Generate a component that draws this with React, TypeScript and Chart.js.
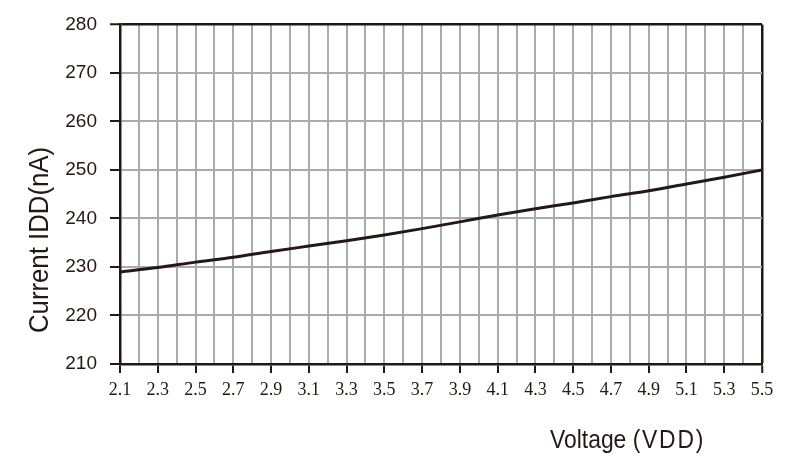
import { useEffect, useRef } from "react";
import { Chart, registerables } from "chart.js";

Chart.register(...registerables);

// ---- Data ----
const voltage = [2.1, 2.3, 2.5, 2.7, 2.9, 3.1, 3.3, 3.5, 3.7, 3.9, 4.1, 4.3, 4.5, 4.7, 4.9, 5.1, 5.3, 5.5];
const currentNA = [229.0, 229.9, 231.0, 232.0, 233.2, 234.3, 235.4, 236.6, 237.9, 239.3, 240.7, 242.0, 243.2, 244.5, 245.7, 247.1, 248.5, 250.0];
const xTickLabels = ["2.1", "2.3", "2.5", "2.7", "2.9", "3.1", "3.3", "3.5", "3.7", "3.9", "4.1", "4.3", "4.5", "4.7", "4.9", "5.1", "5.3", "5.5"];
const yTickLabels = ["210", "220", "230", "240", "250", "260", "270", "280"];
const xTitleMain = "Voltage";
const xTitleUnit = "(VDD)";
const yTitle = "Current IDD(nA)";

const X_MIN = 2.1;
const X_MAX = 5.5;
const X_GRID_STEP = 0.1;
const Y_MIN = 210;
const Y_MAX = 280;
const Y_GRID_STEP = 5;

const INK = "#231815";
const GRID = "#ababab";

const titlesPlugin = {
  id: "customTitles",
  afterDraw(chart: any) {
    const ctx = chart.ctx as CanvasRenderingContext2D;
    const area = chart.chartArea;
    ctx.save();
    ctx.fillStyle = INK;
    ctx.textBaseline = "alphabetic";
    ctx.textAlign = "left";
    // X title
    ctx.font = '26px "Liberation Sans", Arial, sans-serif';
    ctx.translate(area.right - 212, area.bottom + 84);
    ctx.scale(0.88, 1);
    ctx.fillText(xTitleMain, 0, 0);
    const w = ctx.measureText(xTitleMain + " ").width;
    (ctx as any).letterSpacing = "2px";
    ctx.fillText(xTitleUnit, w, 0);
    ctx.restore();

    // Y title
    ctx.save();
    ctx.fillStyle = INK;
    ctx.font = '28px "Liberation Sans", Arial, sans-serif';
    ctx.textBaseline = "alphabetic";
    ctx.textAlign = "center";
    ctx.translate(48, 240);
    ctx.rotate(-Math.PI / 2);
    ctx.scale(0.92, 1);
    ctx.fillText(yTitle, 0, 0);
    ctx.restore();
  },
};

export default function App() {
  const canvasRef = useRef<HTMLCanvasElement | null>(null);

  useEffect(() => {
    document.body.style.margin = "0";
    const canvas = canvasRef.current;
    if (!canvas) return;
    const points = voltage.map((v, i) => ({ x: v, y: currentNA[i] }));
    const nX = Math.round((X_MAX - X_MIN) / X_GRID_STEP);

    const chart = new Chart(canvas, {
      type: "line",
      data: {
        datasets: [
          {
            data: points,
            borderColor: INK,
            borderWidth: 3,
            pointRadius: 0,
            fill: false,
            cubicInterpolationMode: "monotone",
          },
        ],
      },
      options: {
        responsive: false,
        animation: false,
        devicePixelRatio: 1,
        layout: { padding: { top: 24, right: 33, left: 0, bottom: 0 } },
        plugins: {
          legend: { display: false },
          tooltip: { enabled: false },
          title: { display: false },
        },
        scales: {
          x: {
            type: "linear",
            min: X_MIN,
            max: X_MAX,
            afterBuildTicks: (scale: any) => {
              const t = [];
              for (let i = 0; i <= nX; i++) {
                t.push({ value: Math.round((X_MIN + i * X_GRID_STEP) * 10) / 10 });
              }
              scale.ticks = t;
            },
            afterFit: (scale: any) => {
              scale.height = 99;
            },
            ticks: {
              autoSkip: false,
              maxRotation: 0,
              minRotation: 0,
              padding: 6,
              color: INK,
              font: { family: '"Liberation Serif", "Times New Roman", serif', size: 18 },
              callback: (v: any) => {
                const s = Number(v).toFixed(1);
                return xTickLabels.includes(s) ? s : "";
              },
            },
            grid: {
              drawTicks: true,
              tickLength: 9,
              tickWidth: 2,
              color: (c: any) => (c.index === nX ? INK : GRID),
              lineWidth: (c: any) => (c.index === nX ? 2.5 : 2),
              tickColor: (c: any) =>
                c.tick && xTickLabels.includes(Number(c.tick.value).toFixed(1)) ? INK : "rgba(0,0,0,0)",
            },
            border: { display: true, color: INK, width: 2.5 },
          },
          y: {
            type: "linear",
            min: Y_MIN,
            max: Y_MAX,
            afterFit: (scale: any) => {
              scale.width = 120;
            },
            ticks: {
              stepSize: Y_GRID_STEP,
              padding: 13,
              color: INK,
              font: { family: '"Liberation Sans", Arial, sans-serif', size: 19 },
              callback: (v: any) => {
                const s = String(Math.round(Number(v)));
                return yTickLabels.includes(s) ? s : "";
              },
            },
            grid: {
              drawTicks: true,
              tickLength: 10,
              tickWidth: 2,
              color: (c: any) => (c.tick && c.tick.value === Y_MAX ? INK : GRID),
              lineWidth: (c: any) => (c.tick && c.tick.value === Y_MAX ? 2.5 : 2),
              tickColor: (c: any) =>
                c.tick && yTickLabels.includes(String(Math.round(c.tick.value))) ? INK : "rgba(0,0,0,0)",
            },
            border: { display: true, color: INK, width: 2.5 },
          },
        },
      },
      plugins: [titlesPlugin],
    } as any);

    return () => chart.destroy();
  }, []);

  return (
    <div style={{ width: 795, height: 463 }}>
      <canvas ref={canvasRef} width={795} height={463} style={{ display: "block" }} />
    </div>
  );
}
